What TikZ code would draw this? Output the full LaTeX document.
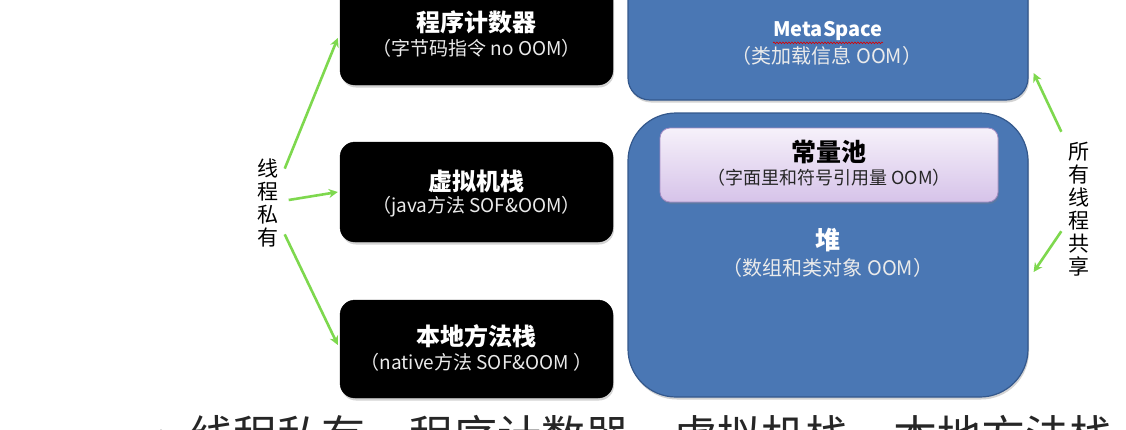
\documentclass[tikz,border=0pt]{standalone}
\usepackage{fontspec}
\setmainfont{Noto Sans CJK SC}
\usetikzlibrary{shadows,arrows.meta,decorations.pathmorphing,calc}
\definecolor{boxblue}{HTML}{4A77B4}
\definecolor{boxblueedge}{HTML}{34588C}
\definecolor{arrgreen}{HTML}{7ED84E}
\definecolor{pooltop}{HTML}{F6F1FA}
\definecolor{poolbot}{HTML}{D6C3E9}
\definecolor{pooledge}{HTML}{A58DC4}
\tikzset{
  blackbox/.style={rectangle, rounded corners=15pt, fill=black, draw=black, inner sep=0pt,
     drop shadow={opacity=0.35, shadow xshift=1pt, shadow yshift=-2.5pt}},
  bluebox/.style={rectangle, fill=boxblue, draw=boxblueedge, line width=1.2pt, inner sep=0pt,
     drop shadow={opacity=0.35, shadow xshift=1pt, shadow yshift=-2.5pt}},
  poolbox/.style={rectangle, rounded corners=10pt, top color=pooltop, bottom color=poolbot,
     draw=pooledge, line width=0.8pt, inner sep=0pt,
     drop shadow={opacity=0.3, shadow xshift=1pt, shadow yshift=-2pt}},
  ttl/.style={font=\fontsize{24}{26}\selectfont\bfseries, text=white, inner sep=0pt},
  sub/.style={font=\fontsize{19}{21}\selectfont, text=white!92!black, inner sep=0pt},
  vtext/.style={font=\fontsize{21}{23}\selectfont, align=center, inner sep=0pt, text=black},
  arr/.style={draw=arrgreen, line width=2.6pt, -{Stealth[length=9pt,width=9pt]}},
}
\begin{document}
\begin{tikzpicture}[x=1pt,y=-1pt]
\useasboundingbox (0,0) rectangle (1126,429);
\clip (0,0) rectangle (1126,429);

% black boxes (thread private)
\node[blackbox, minimum width=273pt, minimum height=100pt] (pc) at (476.5,35) {};
\node[ttl] (pct) at (476.5,22) {程序计数器};
\node[sub] (pcs) at (476.5,48) {（字节码指令 no OOM）};

\node[blackbox, minimum width=273pt, minimum height=100pt] (vm) at (476.5,192) {};
\node[ttl] (vmt) at (476.5,181) {虚拟机栈};
\node[sub] (vms) at (476.5,207) {（java方法 SOF\&OOM）};

\node[blackbox, minimum width=273pt, minimum height=98pt] (nat) at (476.5,349) {};
\node[ttl] (natt) at (476.5,336) {本地方法栈};
\node[sub] (nats) at (476.5,362) {（native方法 SOF\&OOM ）};

% blue boxes (shared)
\node[bluebox, rounded corners=22pt, minimum width=400pt, minimum height=130pt] (meta) at (828,35) {};
\node[ttl, font=\fontsize{20}{22}\selectfont\bfseries] (metat) at (828,31) {MetaSpace};
\node[sub, font=\fontsize{20}{22}\selectfont] (metas) at (827,56) {（类加载信息 OOM）};
\draw[red!85!black, line width=0.6pt, decorate, decoration={snake, amplitude=0.9pt, segment length=3pt}]
  ([yshift=-2pt]metat.south west) -- ([yshift=-2pt]metat.south east);

\node[bluebox, rounded corners=48pt, minimum width=400pt, minimum height=284pt] (heap) at (828,255) {};
\node[poolbox, minimum width=338pt, minimum height=74pt] (pool) at (829,165) {};
\node[ttl, text=black, font=\fontsize{25}{27}\selectfont\bfseries] (poolt) at (829,152) {常量池};
\node[sub, text=black!85, font=\fontsize{18}{20}\selectfont] (pools) at (829,178) {（字面里和符号引用量 OOM）};
\node[ttl, font=\fontsize{25}{27}\selectfont\bfseries] (heapt) at (828,240) {堆};
\node[sub, font=\fontsize{20}{22}\selectfont] (heaps) at (828,268) {（数组和类对象 OOM）};

% vertical labels
\node[vtext] (priv) at (268,203) {线\\程\\私\\有};
\node[vtext] (shared) at (1079,209) {所\\有\\线\\程\\共\\享};

% arrows
\draw[arr] ([xshift=6pt,yshift=-10pt]priv.north east) -- ([xshift=-2pt,yshift=-3pt]pc.west);
\draw[arr] ([xshift=10pt,yshift=3pt]priv.east) -- ([xshift=-2pt]vm.west);
\draw[arr] ([xshift=6pt,yshift=13pt]priv.south east) -- ([xshift=-2pt,yshift=4pt]nat.west);
\draw[arr] ([xshift=-7pt,yshift=10pt]shared.north west) -- ([xshift=5pt,yshift=-38pt]meta.east);
\draw[arr] ([xshift=-7pt,yshift=45pt]shared.south west) -- ([xshift=5pt,yshift=-17pt]heap.east);

% bottom, cut-off line
\node[anchor=base west, inner sep=0pt, font=\fontsize{44}{48}\selectfont, text=black!85] (bottom) at (148,452)
  {\fontsize{26}{28}\selectfont ◆\fontsize{44}{48}\selectfont\hspace{15pt}线程私有，程序计数器，虚拟机栈，本地方法栈};
\end{tikzpicture}
\end{document}
